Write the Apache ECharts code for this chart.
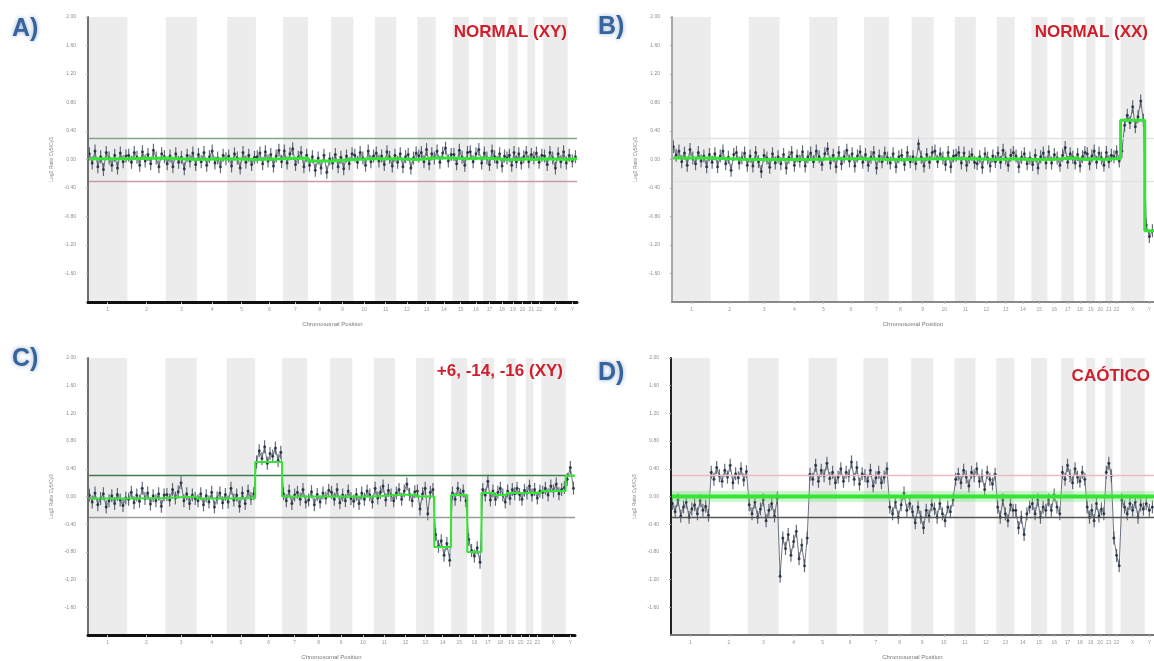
<!DOCTYPE html>
<html>
<head>
<meta charset="utf-8">
<title>aCGH profiles</title>
<script src="https://cdn.jsdelivr.net/npm/echarts@6/dist/echarts.min.js"></script>
<style>
html, body { margin: 0; padding: 0; background: #fff; }
#chart { width: 1154px; height: 661px; }
</style>
</head>
<body>
<div id="chart"></div>
<script>
// chromosomes and their lengths (Mb)
var chromNames = ['1','2','3','4','5','6','7','8','9','10','11','12','13','14','15','16','17','18','19','20','21','22','X','Y'];
var chromSizes = [249,243,198,191,181,171,159,146,141,136,135,134,115,107,103,90,81,78,59,63,48,51,155,59];
var ratioTicks = [2.0, 1.6, 1.2, 0.8, 0.4, 0, -0.4, -0.8, -1.2, -1.6];
var thresholds = [0.3, -0.3];

// A) normal male
var probesA = [
  [0.08,-0.05,0.12,-0.1,0.04,-0.14,0.1,0.02,-0.08,0.06,-0.12,0.09,-0.03,0.05],
  [0.06,-0.04,0.1,0.03,-0.08,0.11,-0.02,0.07,-0.06,0.13,0.02,-0.1,0.08,0.04],
  [-0.06,0.05,-0.1,0.08,-0.04,0.03,-0.13,0.06,-0.02,0.09,-0.07],
  [0.07,-0.03,0.1,-0.08,0.04,0.12,-0.05,0.02,-0.1,0.06,0.01],
  [0.05,-0.09,0.08,0.02,-0.12,0.1,-0.04,0.06,-0.07,0.03],
  [0.04,0.09,-0.06,0.11,-0.02,0.07,-0.09,0.05,0.13,-0.03],
  [0.12,-0.05,0.08,0.15,-0.07,0.03,0.1,-0.1,0.06],
  [-0.08,0.04,-0.15,0.02,-0.12,0.06,-0.18,0.01],
  [-0.05,0.07,-0.1,0.03,-0.13,0.05,-0.06,0.08],
  [0.06,-0.04,0.1,0.02,-0.08,0.12,-0.03,0.05],
  [0.09,-0.02,0.05,-0.07,0.11,0.03,-0.09,0.06],
  [-0.04,0.08,-0.1,0.04,0.07,-0.12,0.02,0.09],
  [0.05,0.1,-0.03,0.14,-0.06,0.08,0.02],
  [0.12,-0.04,0.09,0.16,-0.02,0.07],
  [0.07,-0.06,0.13,0.03,-0.08,0.1],
  [0.11,-0.03,0.08,0.14,-0.05],
  [0.09,0.02,-0.07,0.12,0.04],
  [-0.04,0.08,-0.09,0.05,0.02],
  [0.06,-0.08,0.1,-0.03],
  [0.08,-0.05,0.04,0.1],
  [-0.03,0.07,0.02],
  [0.09,-0.04,0.06],
  [0.05,-0.07,0.1,0.02,-0.12,0.08,-0.03,0.11,-0.05],
  [0.06,-0.02,0.04]
];
var segA = [0.01,0.02,0,0.01,0,0.01,0.02,-0.02,0,0.01,0.01,0,0.02,0.02,0.01,0.02,0.01,0,0,0.01,0,0.01,0,0.01];

// B) normal female
var probesB = [
  [0.18,0.06,0.12,-0.03,0.09,-0.08,0.14,0.02,-0.06,0.1,-0.02,0.05,-0.1,0.07],
  [-0.04,0.08,-0.1,0.05,0.12,-0.06,0.03,-0.15,0.07,0.1,-0.05,0.02,0.09,-0.08],
  [0.05,-0.09,0.1,-0.03,-0.17,0.06,0.02,-0.11,0.08,-0.05,0.04],
  [-0.06,0.07,-0.12,0.03,0.1,-0.08,0.05,-0.02,0.11,-0.09,0.04],
  [0.09,-0.03,0.12,0.04,-0.07,0.08,0.15,-0.05,0.06,-0.1],
  [0.1,-0.06,0.04,0.13,-0.02,0.08,-0.09,0.05,0.11,-0.04],
  [0.07,-0.08,0.03,0.1,-0.12,0.05,-0.03,0.09,0.02],
  [-0.05,0.08,-0.1,0.04,0.06,-0.07,0.1,-0.03],
  [0.04,-0.06,0.22,0.03,-0.09,0.07,-0.04,0.1],
  [0.12,-0.03,0.08,0.02,-0.07,0.1,-0.1,0.05],
  [0.06,0.1,-0.05,0.09,-0.08,0.03,0.07,-0.04],
  [-0.06,0.04,-0.11,0.08,0.02,-0.09,0.05,-0.03],
  [0.09,-0.04,0.13,0.02,-0.08,0.06,0.1],
  [0.05,-0.1,0.03,0.08,-0.06,0.02],
  [-0.07,0.06,-0.12,0.04,0.09,-0.05],
  [0.11,-0.05,0.07,0.02,-0.08],
  [0.06,0.17,-0.04,0.08,0.03],
  [-0.05,0.07,-0.09,0.04,0.1],
  [0.08,-0.06,0.05,0.12],
  [-0.04,0.09,0.02,-0.08],
  [0.1,-0.03,0.06],
  [0.04,0.11,-0.02],
  [0.12,0.48,0.62,0.52,0.74,0.46,0.6,0.82,0.55],
  [-0.92,-1.08,-1.0]
];
var segB = [0.02,0,0,0,0.01,0.01,0,0,0.01,0.01,0.01,0,0.01,0,0,0.01,0.02,0,0.01,0,0.01,0.01,0.55,-1.0];

// C) +6, -14, -16 male
var probesC = [
  [0.02,-0.08,0.05,-0.12,-0.03,0.04,-0.15,-0.06,0.01,-0.1,0.03,-0.05,-0.13,-0.02],
  [-0.04,0.06,-0.09,0.02,-0.07,0.12,-0.03,0.05,-0.11,0.01,-0.06,0.04,-0.14,0.02],
  [0.03,-0.05,0.1,-0.02,0.07,0.2,-0.06,0.04,-0.1,0.02,-0.03],
  [-0.06,0.04,-0.12,0.01,-0.08,0.06,-0.15,-0.02,0.05,-0.09,0.03],
  [-0.08,0.12,-0.05,0.02,-0.14,0.05,-0.1,0.08,-0.03,0.04],
  [0.5,0.66,0.55,0.72,0.48,0.62,0.58,0.7,0.52,0.64],
  [0.04,-0.06,0.08,-0.1,0.02,0.06,-0.04,0.1,-0.08],
  [-0.05,0.07,-0.12,0.03,-0.08,0.05,-0.02,0.09],
  [0.06,-0.04,0.1,-0.09,0.02,-0.06,0.08,-0.03],
  [-0.07,0.03,-0.1,0.05,-0.04,0.08,0.02,-0.08],
  [0.12,-0.02,0.06,0.15,-0.05,0.09,0.02,-0.06],
  [0.05,0.1,-0.04,0.08,0.18,0.03,-0.06,0.07],
  [0.08,-0.18,0.04,0.12,-0.25,0.06,0.1],
  [-0.55,-0.72,-0.64,-0.85,-0.68,-0.92],
  [0.05,-0.04,0.12,0.02,0.08,-0.06],
  [-0.62,-0.78,-0.86,-0.74,-0.95],
  [0.1,0.02,0.22,-0.05,0.08],
  [-0.04,0.06,0.12,0.02,-0.08],
  [0.08,-0.03,0.1,0.04],
  [0.12,0.03,-0.04,0.09],
  [0.05,0.15,0.02],
  [0.1,-0.02,0.08],
  [0.06,0.12,0.02,0.15,0.08,0.18,0.04,0.1,0.13],
  [0.25,0.42,0.12]
];
var segC = [-0.03,-0.02,0,-0.03,-0.02,0.5,0,0,0,0,0.02,0.03,0,-0.73,0.02,-0.8,0.05,0.02,0.05,0.05,0.05,0.05,0.08,0.3];

// D) chaotic
var probesD = [
  [-0.1,-0.22,-0.05,-0.28,-0.15,-0.08,-0.3,-0.18,-0.12,-0.25,-0.06,-0.2,-0.14,-0.27],
  [0.35,0.25,0.42,0.3,0.22,0.38,0.28,0.45,0.2,0.33,0.27,0.4,0.24,0.36],
  [-0.12,-0.25,-0.08,-0.3,-0.18,-0.05,-0.35,-0.2,-0.1,-0.28,-0.02],
  [-1.15,-0.6,-0.75,-0.55,-0.85,-0.65,-0.5,-0.9,-0.7,-1.0,-0.6],
  [0.32,0.25,0.45,0.22,0.38,0.3,0.48,0.26,0.35,0.2],
  [0.28,0.4,0.22,0.35,0.3,0.5,0.25,0.42,0.18,0.33],
  [0.3,0.22,0.38,0.15,0.27,0.35,0.2,0.28,0.4],
  [-0.15,-0.25,-0.08,-0.3,-0.12,0.05,-0.2,-0.1],
  [-0.22,-0.38,-0.15,-0.3,-0.45,-0.2,-0.28,-0.12],
  [-0.18,-0.3,-0.1,-0.25,-0.35,-0.15,-0.22,-0.05],
  [0.25,0.32,0.2,0.38,0.28,0.15,0.35,0.3],
  [0.4,0.22,0.3,0.1,0.35,0.25,0.18,0.32],
  [-0.15,-0.3,-0.05,-0.25,-0.35,-0.12,-0.2],
  [-0.2,-0.45,-0.3,-0.55,-0.25,-0.15],
  [-0.1,-0.25,-0.05,-0.3,-0.15,-0.2],
  [-0.05,-0.2,0.02,-0.15,-0.25],
  [0.35,0.25,0.45,0.3,0.2],
  [0.4,0.28,0.22,0.35,0.25],
  [-0.15,-0.3,-0.2,-0.35],
  [-0.1,-0.28,-0.18,-0.25],
  [0.35,0.48,0.3],
  [-0.6,-0.85,-1.0],
  [-0.05,-0.15,-0.25,-0.1,-0.2,-0.08,-0.3,-0.12,-0.18],
  [-0.1,-0.2,-0.15]
];
var segD = [0,0,0,0,0,0,0,0,0,0,0,0,0,0,0,0,0,0,0,0,0,0,0,0];

var chromStarts = [];
var genomeLen = 0;
chromSizes.forEach(function (s) { chromStarts.push(genomeLen); genomeLen += s; });
var chromCenters = chromStarts.map(function (s, i) { return s + chromSizes[i] / 2; });

function probePoints(probes) {
  var pts = [];
  probes.forEach(function (vals, c) {
    var step = chromSizes[c] / vals.length;
    vals.forEach(function (v, i) { pts.push([chromStarts[c] + (i + 0.5) * step, v]); });
  });
  return pts;
}
function segPoints(seg) {
  var pts = [];
  seg.forEach(function (v, c) {
    pts.push([chromStarts[c], v]);
    pts.push([chromStarts[c] + chromSizes[c], v]);
  });
  return pts;
}
function chromLabel(v) {
  for (var i = 0; i < chromCenters.length; i++) {
    if (Math.abs(chromCenters[i] - v) < 0.01) return chromNames[i];
  }
  return '';
}

var bands = [];
chromStarts.forEach(function (s, i) {
  if (i % 2 === 0) bands.push([{ xAxis: s }, { xAxis: s + chromSizes[i] }]);
});

var panels = [
  { letter: 'A)', name: 'NORMAL (XY)', probes: probesA, seg: segA,
    grid: { left: 88, top: 17, width: 489, height: 285 },
    letterPos: { left: 12, top: 17 }, namePos: { right: 587, top: 24 },
    leftAxis: '#6f6f6f', bottomAxis: ['#111', 3], thr: ['#86a386', '#cf97a6'], segWidth: 3 },
  { letter: 'B)', name: 'NORMAL (XX)', probes: probesB, seg: segB,
    grid: { left: 672, top: 17, width: 489, height: 285 },
    letterPos: { left: 598, top: 15 }, namePos: { right: 6, top: 24 },
    leftAxis: '#a8a8a8', bottomAxis: ['#8a8a8a', 2], thr: ['#e2e2e2', '#e2e2e2'], segWidth: 3 },
  { letter: 'C)', name: '+6, -14, -16 (XY)', probes: probesC, seg: segC,
    grid: { left: 88, top: 358, width: 487, height: 283 },
    letterPos: { left: 12, top: 347 }, namePos: { right: 591, top: 363 },
    leftAxis: '#6f6f6f', bottomAxis: ['#111', 3], thr: ['#3f7d4c', '#9a9a9a'], segWidth: 2 },
  { letter: 'D)', name: 'CAÓTICO', probes: probesD, seg: segD,
    grid: { left: 671, top: 358, width: 489, height: 284 },
    letterPos: { left: 598, top: 361 }, namePos: { right: 4, top: 368 },
    leftAxis: '#222', bottomAxis: ['#777', 2], thr: ['#e9bcc4', '#555'], segWidth: 4 }
];

var option = {
  animation: false,
  backgroundColor: '#fff',
  textStyle: { fontFamily: 'Liberation Sans, Arial, sans-serif' },
  title: [], grid: [], xAxis: [], yAxis: [], series: []
};

panels.forEach(function (p, k) {
  option.title.push({
    text: p.letter, left: p.letterPos.left, top: p.letterPos.top, padding: 0,
    textStyle: { fontSize: 25, fontWeight: 'bold', color: '#36649f',
      textShadowColor: 'rgba(54,100,159,0.5)', textShadowBlur: 4 }
  });
  option.title.push({
    text: p.name, right: p.namePos.right, top: p.namePos.top, padding: 0,
    textStyle: { fontSize: 17, fontWeight: 'bold', color: '#cf1f2c' }
  });
  option.grid.push(p.grid);
  option.xAxis.push({
    type: 'value', gridIndex: k, min: 0, max: genomeLen, z: 10,
    name: 'Chromosomal Position', nameLocation: 'middle', nameGap: 19,
    nameTextStyle: { fontSize: 6, color: '#777' },
    axisLine: { onZero: false, lineStyle: { color: p.bottomAxis[0], width: p.bottomAxis[1] } },
    axisTick: { customValues: chromCenters, length: 2, lineStyle: { color: '#bbb' } },
    axisLabel: { customValues: chromCenters, formatter: chromLabel, fontSize: 5, color: '#999', margin: 5 },
    splitLine: { show: false }
  });
  option.yAxis.push({
    type: 'value', gridIndex: k, min: -2, max: 2, z: 10,
    name: 'Log2 Ratio Cy5/Cy3', nameLocation: 'middle', nameGap: 34,
    nameTextStyle: { fontSize: 5, color: '#888' },
    axisLine: { show: true, onZero: false, lineStyle: { color: p.leftAxis, width: 2 } },
    axisTick: { show: true, customValues: ratioTicks, length: 2, lineStyle: { color: '#aaa' } },
    axisLabel: { customValues: ratioTicks, fontSize: 5, color: '#8c8c8c', margin: 12,
      formatter: function (v) { return v.toFixed(2); } },
    splitLine: { show: false }
  });

  var pts = probePoints(p.probes);
  option.series.push({
    type: 'line', xAxisIndex: k, yAxisIndex: k, data: [], z: 0, silent: true,
    markArea: { silent: true, itemStyle: { color: '#ececec' }, data: bands },
    markLine: { silent: true, symbol: 'none', label: { show: false },
      data: [
        { yAxis: thresholds[0], lineStyle: { color: p.thr[0], width: 1.3, type: 'solid' } },
        { yAxis: thresholds[1], lineStyle: { color: p.thr[1], width: 1.3, type: 'solid' } }
      ] }
  });
  option.series.push({
    type: 'line', xAxisIndex: k, yAxisIndex: k, data: pts, z: 2, showSymbol: false, silent: true,
    lineStyle: { color: '#334050', width: 0.8, opacity: 0.9 }
  });
  option.series.push({
    type: 'scatter', xAxisIndex: k, yAxisIndex: k, data: pts, z: 3, silent: true,
    symbol: 'rect', symbolSize: [1.2, 13], itemStyle: { color: '#465364', opacity: 0.85 }
  });
  option.series.push({
    type: 'scatter', xAxisIndex: k, yAxisIndex: k, data: pts, z: 4, silent: true,
    symbolSize: 3, itemStyle: { color: '#1a2738' }
  });
  if (k === 3) {
    option.series.push({
      type: 'line', xAxisIndex: k, yAxisIndex: k, data: segPoints(p.seg), z: 5, showSymbol: false, silent: true,
      lineStyle: { color: 'rgba(120,225,120,0.35)', width: 11 }
    });
  }
  option.series.push({
    type: 'line', xAxisIndex: k, yAxisIndex: k, data: segPoints(p.seg), z: 6, showSymbol: false, silent: true,
    lineStyle: { color: '#36e436', width: p.segWidth }
  });
});

var chart = echarts.init(document.getElementById('chart'));
chart.setOption(option);
</script>
</body>
</html>
